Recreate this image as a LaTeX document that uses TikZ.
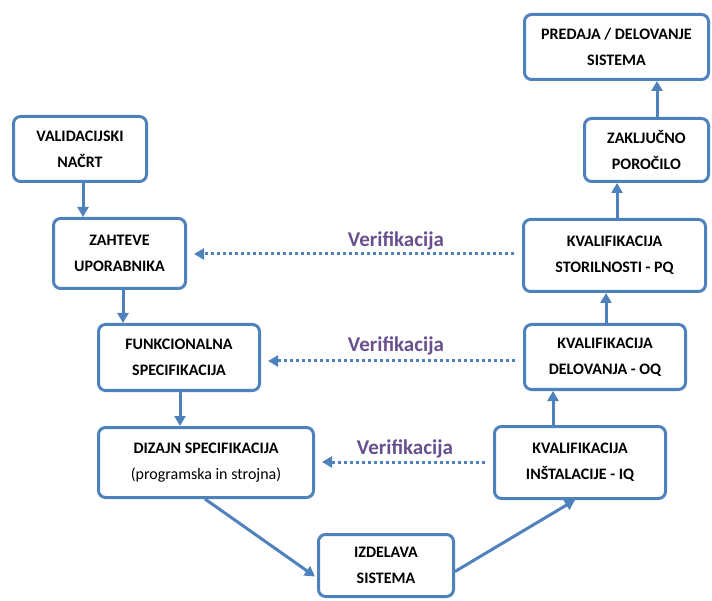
\documentclass[tikz,border=0pt]{standalone}
\usepackage{fontspec}
\setmainfont{Carlito}
\usetikzlibrary{arrows.meta}
\definecolor{boxblue}{RGB}{79,129,189}
\definecolor{verpurple}{RGB}{104,80,142}
\begin{document}
\begin{tikzpicture}[x=1pt,y=-1pt,
  stage/.style={draw=boxblue, line width=3pt, rounded corners=7pt, fill=white,
    align=center, inner sep=2pt,
    font=\fontsize{16pt}{26pt}\selectfont\bfseries},
  flow/.style={draw=boxblue, line width=3pt,
    -{Triangle[length=10pt,width=11pt]}},
  verif/.style={draw=boxblue, line width=3pt, dash pattern=on 3.5pt off 2.5pt,
    -{Triangle[length=10pt,width=11pt]}, shorten <=8pt, shorten >=7pt},
  verlabel/.style={text=verpurple, font=\fontsize{21pt}{24pt}\selectfont\bfseries, inner sep=0pt}
]
\useasboundingbox (0,0) rectangle (712,601);

% left branch of the V
\node[stage, minimum width=133pt, minimum height=65pt] (val) at (80,149) {VALIDACIJSKI\\NAČRT};
\node[stage, minimum width=132pt, minimum height=70pt] (zah) at (119.5,253.5) {ZAHTEVE\\UPORABNIKA};
\node[stage, minimum width=161pt, minimum height=66pt] (funk) at (179,357.5) {FUNKCIONALNA\\SPECIFIKACIJA};
\node[stage, minimum width=215pt, minimum height=70pt] (diz) at (206,462.5)
  {DIZAJN SPECIFIKACIJA\\{\mdseries (programska in strojna)}};

% bottom of the V
\node[stage, minimum width=135pt, minimum height=62pt] (izd) at (386,565.5) {IZDELAVA\\SISTEMA};

% right branch of the V
\node[stage, minimum width=171pt, minimum height=72pt] (iq) at (580,462.5) {KVALIFIKACIJA\\INŠTALACIJE - IQ};
\node[stage, minimum width=161pt, minimum height=65pt] (oq) at (605,357) {KVALIFIKACIJA\\DELOVANJA - OQ};
\node[stage, minimum width=182pt, minimum height=72pt] (pq) at (614.5,255.5) {KVALIFIKACIJA\\STORILNOSTI - PQ};
\node[stage, minimum width=124pt, minimum height=63pt] (zak) at (646.5,150) {ZAKLJUČNO\\POROČILO};
\node[stage, minimum width=184pt, minimum height=65pt] (pred) at (616.5,47) {PREDAJA / DELOVANJE\\SISTEMA};

% process flow
\draw[flow] ([xshift=3pt]val.south) -- ([xshift=3pt]val.south |- zah.north);
\draw[flow] ([xshift=3.5pt]zah.south) -- ([xshift=3.5pt]zah.south |- funk.north);
\draw[flow] ([xshift=1pt]funk.south) -- ([xshift=1pt]funk.south |- diz.north);
\draw[flow] ([xshift=-1pt]diz.south) -- ([xshift=-2pt,yshift=-11pt]izd.west);
\draw[flow] ([yshift=-6pt]izd.east) -- ([xshift=-5pt]iq.south);
\draw[flow] ([xshift=-27pt]iq.north) -- ([xshift=-27pt]iq.north |- oq.south);
\draw[flow] ([xshift=1pt]oq.north) -- ([xshift=1pt]oq.north |- pq.south);
\draw[flow] ([xshift=2.5pt]pq.north) -- ([xshift=2.5pt]pq.north |- zak.south);
\draw[flow] ([xshift=10.5pt]zak.north) -- ([xshift=10.5pt]zak.north |- pred.south);

% verification links
\draw[verif] (pq.west |- 0,254) -- (zah.east |- 0,254);
\draw[verif] (oq.west |- 0,361) -- (funk.east |- 0,361);
\draw[verif] (iq.west |- 0,462) -- (diz.east |- 0,462);

\node[verlabel] (v1) at (396,241) {Verifikacija};
\node[verlabel] (v2) at (396,346) {Verifikacija};
\node[verlabel] (v3) at (405,449) {Verifikacija};
\end{tikzpicture}
\end{document}
